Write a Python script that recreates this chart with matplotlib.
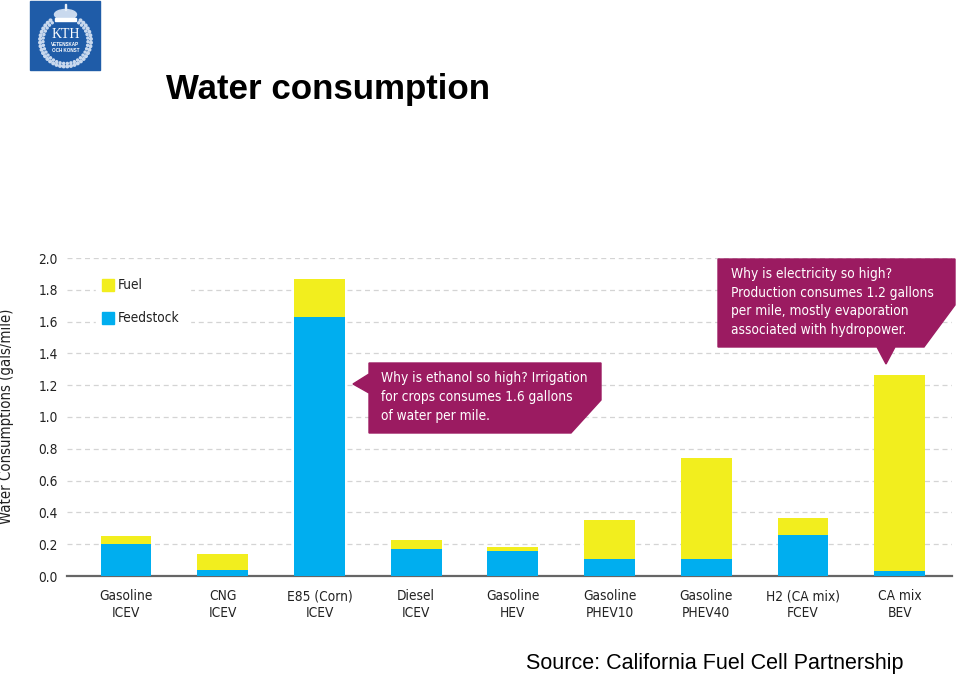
import numpy as np
import matplotlib
matplotlib.use("Agg")
import matplotlib.pyplot as plt
from matplotlib.patches import Polygon, Rectangle, Circle, Ellipse

categories = ["Gasoline\nICEV", "CNG\nICEV", "E85 (Corn)\nICEV", "Diesel\nICEV", "Gasoline\nHEV",
              "Gasoline\nPHEV10", "Gasoline\nPHEV40", "H2 (CA mix)\nFCEV", "CA mix\nBEV"]
feedstock = [0.20, 0.04, 1.63, 0.17, 0.155, 0.11, 0.105, 0.255, 0.03]
fuel = [0.05, 0.10, 0.24, 0.055, 0.03, 0.245, 0.64, 0.11, 1.235]
yticks = [0.0, 0.2, 0.4, 0.6, 0.8, 1.0, 1.2, 1.4, 1.6, 1.8, 2.0]

BLUE = "#00AEEF"
YEL = "#F2EE1E"
PURP = "#9B1B61"
FS = 9.85
TXT = "#222222"
TF = dict(fontsize=FS, family="DejaVu Sans", stretch="condensed")

W, H = 960, 674
fig = plt.figure(figsize=(W / 100, H / 100), dpi=100, facecolor="white")

# chart axes: y=0 at pixel 576, y=2 at pixel 258
ax = fig.add_axes([67 / W, 1 - 576 / H, (952 - 67) / W, (576 - 258) / H])
x = np.arange(len(categories))
ax.bar(x, feedstock, width=0.525, color=BLUE, zorder=3, label="Feedstock")
ax.bar(x, fuel, width=0.525, bottom=feedstock, color=YEL, zorder=3, label="Fuel")
ax.set_xlim(-0.61, 8.54)
ax.set_ylim(0, 2.0)
ax.set_yticks(yticks)
ax.set_yticklabels([f"{v:.1f}" for v in yticks], color=TXT, **TF)
ax.set_xticks(x)
ax.set_xticklabels(categories, color=TXT, linespacing=1.25, **TF)
ax.tick_params(axis="both", length=0)
ax.tick_params(axis="x", pad=9.7)
ax.tick_params(axis="y", pad=6.5)
ax.grid(axis="y", color="#d4d4d4", linestyle=(0, (4, 3)), linewidth=0.9, zorder=0)
ax.set_axisbelow(True)
for s in ["top", "right", "left"]:
    ax.spines[s].set_visible(False)
ax.spines["bottom"].set_color("#666666")
ax.spines["bottom"].set_linewidth(1.6)
ax.set_ylabel("Water Consumptions (gals/mile)", color=TXT, fontsize=10.7, family="DejaVu Sans", stretch="condensed")
ax.yaxis.set_label_coords((14 - 67) / (952 - 67), (576 - 416.5) / (576 - 258))

# overlay in pixel coordinates for annotations
ov = fig.add_axes([0, 0, 1, 1], facecolor="none")
ov.set_xlim(0, W)
ov.set_ylim(H, 0)
ov.axis("off")

# legend (on a white panel that interrupts the gridlines)
ov.add_patch(Rectangle((96, 272), 94, 60, color="white", zorder=1))
ov.add_patch(Rectangle((102, 279), 12, 12, color=YEL, zorder=2))
ov.add_patch(Rectangle((102, 312), 12, 12, color=BLUE, zorder=2))
ov.text(118, 285, "Fuel", color=TXT, va="center", zorder=2, **TF)
ov.text(118, 318, "Feedstock", color=TXT, va="center", zorder=2, **TF)

# callouts
ov.add_patch(Polygon([(369, 363), (601, 363), (601, 400), (571, 433), (369, 433),
                      (369, 393), (353, 384), (369, 374)], closed=True, color=PURP, zorder=5))
ov.text(381, 397, "Why is ethanol so high? Irrigation\nfor crops consumes 1.6 gallons\nof water per mile.",
        color="white", va="center", linespacing=1.42, zorder=6, **TF)
ov.add_patch(Polygon([(718, 259), (955, 259), (955, 305), (924, 347), (895, 347),
                      (886, 364), (877, 347), (718, 347)], closed=True, color=PURP, zorder=5))
ov.text(731, 302, "Why is electricity so high?\nProduction consumes 1.2 gallons\nper mile, mostly evaporation\nassociated with hydropower.",
        color="white", va="center", linespacing=1.42, zorder=6, **TF)

# title and source
ov.text(166, 90, "Water consumption", fontsize=25.1, family="Liberation Sans", weight="bold",
        color="black", va="center")
ov.text(526, 663, "Source: California Fuel Cell Partnership", fontsize=15.5, family="Liberation Sans",
        color="black", va="center")

# KTH logo
LB = "#1F5CA8"
ov.add_patch(Rectangle((30, 1), 70, 69, color=LB))
cx, cy = 65.5, 41
for r, n, s in [(25.5, 36, 2.6), (22.5, 32, 2.0)]:
    for a in np.linspace(0.2 * np.pi, 1.8 * np.pi, n):
        px, py = cx + r * np.sin(a), cy - r * np.cos(a)
        ov.add_patch(Circle((px, py), s / 2, color="#c9d9ee"))
ov.add_patch(Ellipse((65.5, 14.5), 22, 10, color="#c9d9ee"))
ov.add_patch(Rectangle((55, 18), 21, 2.5, color="#ffffff"))
ov.add_patch(Rectangle((64.8, 4), 1.4, 6, color="#e8eff8"))
ov.text(65.5, 35, "KTH", fontsize=10, family="Liberation Serif", color="white", ha="center", va="center")
ov.text(65.5, 44.5, "VETENSKAP", fontsize=3.3, family="Liberation Sans", weight="bold", color="white", ha="center", va="center")
ov.text(65.5, 50, "OCH KONST", fontsize=3.3, family="Liberation Sans", weight="bold", color="white", ha="center", va="center")

fig.savefig("out.png", dpi=100)
